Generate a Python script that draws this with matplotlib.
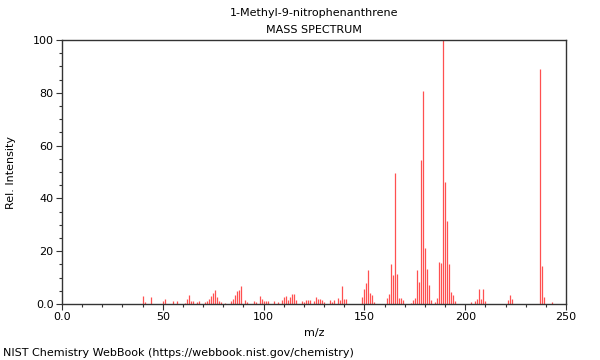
import matplotlib
matplotlib.use("Agg")
import matplotlib.pyplot as plt
from matplotlib.ticker import MultipleLocator, FuncFormatter

# peaks (m/z, relative intensity)
mz = [40, 41, 44, 50, 51, 55, 57, 61, 62, 63, 64, 65, 67, 68, 71, 72, 73, 74,
      75, 76, 77, 78, 79, 81, 84, 85, 86, 87, 88, 89, 91, 92, 95, 96, 98, 99,
      100, 101, 102, 105, 107, 109, 110, 111, 112, 113, 114, 115, 116, 119,
      120, 121, 122, 123, 125, 126, 127, 128, 129, 130, 133, 134, 135, 137,
      138, 139, 140, 141, 149, 150, 151, 152, 153, 154, 155, 161, 162, 163,
      164, 165, 166, 167, 168, 169, 173, 174, 175, 176, 177, 178, 179, 180,
      181, 182, 183, 185, 186, 187, 188, 189, 190, 191, 192, 193, 194, 195,
      203, 205, 206, 207, 208, 209, 210, 221, 222, 223, 237, 238, 239, 243]
intensity = [3.2, 0.8, 2.5, 1.0, 1.8, 1.3, 1.0, 0.5, 1.8, 3.3, 1.3, 1.3, 0.8,
             1.0, 0.8, 1.0, 1.8, 3.0, 4.3, 5.3, 2.5, 1.3, 0.8, 0.5, 1.3, 2.0,
             3.3, 4.8, 5.3, 6.8, 1.5, 0.8, 1.3, 0.8, 3.2, 2.0, 1.3, 1.0, 1.0,
             1.0, 0.8, 1.5, 2.5, 3.2, 1.5, 2.8, 3.9, 3.9, 1.5, 1.0, 0.8, 1.5,
             1.7, 1.5, 1.2, 2.8, 2.0, 2.0, 1.5, 0.8, 1.5, 0.8, 1.5, 2.3, 1.7,
             6.9, 1.9, 1.9, 2.8, 5.8, 7.8, 13.0, 4.0, 3.5, 0.9, 2.4, 3.8, 15.2,
             11.0, 49.7, 11.4, 2.4, 2.4, 1.6, 0.5, 1.4, 2.3, 12.8, 8.5, 54.5,
             80.7, 21.1, 13.3, 7.2, 1.5, 0.9, 2.1, 16.0, 15.4, 100.0, 46.3,
             31.4, 15.0, 4.4, 3.4, 1.3, 0.8, 1.2, 2.0, 5.7, 2.0, 5.8, 1.0, 1.5,
             3.5, 1.9, 89.0, 14.4, 2.5, 0.8]

compound = "1-Methyl-9-nitrophenanthrene"
footer = "NIST Chemistry WebBook (https://webbook.nist.gov/chemistry)"

W, H = 600, 360
fig = plt.figure(figsize=(W / 100, H / 100), dpi=100)
ax = fig.add_axes([62 / W, 1 - 304 / H, 504 / W, 264 / H])

ax.vlines(mz, 0, intensity, colors="#ff5050", linewidth=0.9)

ax.set_xlim(0, 250)
ax.set_ylim(0, 100)
ax.xaxis.set_major_locator(MultipleLocator(50))
ax.xaxis.set_minor_locator(MultipleLocator(10))
ax.yaxis.set_major_locator(MultipleLocator(20))
ax.yaxis.set_minor_locator(MultipleLocator(5))

fmt = FuncFormatter(lambda v, p: "0.0" if v == 0 else "%d" % v)
ax.xaxis.set_major_formatter(fmt)
ax.yaxis.set_major_formatter(fmt)

edge = "#333333"
for sp in ax.spines.values():
    sp.set_color(edge)
    sp.set_linewidth(1.0)
ax.tick_params(which="major", length=4, width=0.8, color=edge,
               labelsize=8, pad=2)
ax.tick_params(which="minor", length=2, width=0.8, color=edge)

fig.text(314 / W, 1 - 13 / H, compound, ha="center", va="center", fontsize=8)
fig.text(314 / W, 1 - 30 / H, "MASS SPECTRUM", ha="center", va="center",
         fontsize=8)
fig.text(314 / W, 1 - 333 / H, "m/z", ha="center", va="center", fontsize=8)
fig.text(11 / W, 1 - 172 / H, "Rel. Intensity", ha="center", va="center",
         rotation=90, fontsize=8)
fig.text(3 / W, 1 - 353 / H, footer, ha="left", va="center", fontsize=8)

fig.savefig("out.png", dpi=100)
